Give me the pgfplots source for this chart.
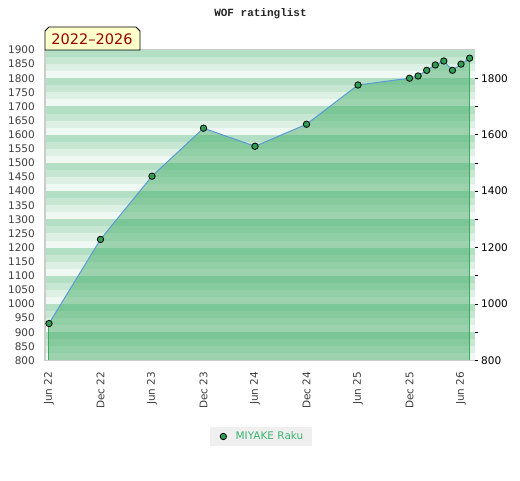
\documentclass[border=0pt]{standalone}
\usepackage{pgfplots}
\pgfplotsset{compat=1.18}
\usepackage{fontspec}
\setmainfont{DejaVu Sans}
\newfontfamily\titlefont{Liberation Mono}
\definecolor{sA}{HTML}{B3DFC5}
\definecolor{sB}{HTML}{C7E7D3}
\definecolor{sC}{HTML}{DCF0E3}
\definecolor{sD}{HTML}{EFF8F2}
\definecolor{areagreen}{HTML}{37A85D}
\definecolor{edgegreen}{HTML}{3CAA60}
\definecolor{markgreen}{HTML}{2E9E55}
\definecolor{lineblue}{HTML}{5B9BD5}
\definecolor{tickgrey}{HTML}{404040}
\definecolor{bordergrey}{HTML}{CCCCCC}
\definecolor{tabyellow}{HTML}{FFFFCC}
\definecolor{tabred}{HTML}{990000}
\definecolor{legendgreen}{HTML}{3CB371}
\definecolor{legendbg}{HTML}{EFEFEF}
\begin{document}
\begin{tikzpicture}
\path[use as bounding box, fill=white] (0,0) rectangle (520pt,480pt);
\begin{axis}[
  at={(45pt,119.5pt)}, anchor=south west,
  scale only axis, width=430pt, height=310.5pt,
  xmin=-0.466, xmax=49.63, ymin=800, ymax=1900,
  axis line style={draw=none},
  xtick={0,6,...,48},
  xticklabels={Jun 22,Dec 22,Jun 23,Dec 23,Jun 24,Dec 24,Jun 25,Dec 25,Jun 26},
  x tick label style={rotate=90, anchor=east, inner sep=0pt, text=tickgrey, font=\fontsize{10.5}{12}\selectfont},
  xticklabel shift=11pt,
  ytick={800,850,...,1900},
  y tick label style={anchor=east, inner sep=0pt, text=tickgrey, font=\fontsize{10.5}{12}\selectfont},
  yticklabel shift=10pt,
  major tick length=0pt,
  /pgf/number format/1000 sep={},
  /pgf/number format/assume math mode=true,
  clip=false,
  legend style={at={(0.5023,-0.2448)}, anchor=center, fill=legendbg, draw=none,
    font=\fontsize{10.5}{12}\selectfont, text=legendgreen, inner xsep=6.5pt, inner ysep=3pt},
  legend cell align=left,
  legend image code/.code={\path[draw=none, fill=none] (0pt,-1pt) rectangle (17pt,1pt);
    \path[draw=none, mark=*, mark size=3.2pt, mark options={fill=markgreen, draw=black, line width=0.8pt}] plot coordinates {(6.7pt,0pt)};},
]
\pgfplotsinvokeforeach{800,900,...,1800}{
  \fill[sD] (axis cs:-0.466,#1) rectangle (axis cs:49.63,{#1+25});
  \fill[sC] (axis cs:-0.466,{#1+25}) rectangle (axis cs:49.63,{#1+50});
  \fill[sB] (axis cs:-0.466,{#1+50}) rectangle (axis cs:49.63,{#1+75});
  \fill[sA] (axis cs:-0.466,{#1+75}) rectangle (axis cs:49.63,{#1+100});
}
\addplot[fill=areagreen, fill opacity=0.45, draw=none, forget plot] coordinates {
(0,931) (6,1229) (12,1453) (18,1623) (24,1559) (30,1637) (36,1776) (42,1800)
(43,1808) (44,1828) (45,1847) (46,1861) (47,1828) (48,1850) (49,1871)} \closedcycle;
\addplot[edgegreen, line width=1pt, forget plot] coordinates {(0,800) (0,931)};
\addplot[edgegreen, line width=1pt, forget plot] coordinates {(49,800) (49,1871)};
\addplot[lineblue, line width=1pt, mark=*, mark size=3.2pt,
  mark options={fill=markgreen, draw=black, line width=0.8pt, solid}] coordinates {
(0,931) (6,1229) (12,1453) (18,1623) (24,1559) (30,1637) (36,1776) (42,1800)
(43,1808) (44,1828) (45,1847) (46,1861) (47,1828) (48,1850) (49,1871)};
\addlegendentry{MIYAKE Raku}
\draw[bordergrey, line width=1.5pt] (rel axis cs:0,1) -- (rel axis cs:0,0) -- (rel axis cs:1,0);
\draw[bordergrey, line width=1pt] (rel axis cs:0,1) -- (rel axis cs:1,1);
\end{axis}
\begin{axis}[
  at={(45pt,119.5pt)}, anchor=south west,
  scale only axis, width=430pt, height=310.5pt,
  xmin=-0.466, xmax=49.63, ymin=800, ymax=1900,
  axis x line=none,
  axis y line*=right,
  y axis line style={draw=none},
  ytick={800,1000,...,1800},
  minor ytick={900,1100,...,1700},
  tick align=outside,
  major tick length=3pt, minor tick length=3pt,
  every tick/.style={black, line width=0.8pt},
  y tick label style={anchor=west, inner sep=0pt, text=black, font=\fontsize{10.5}{12}\selectfont},
  yticklabel shift=3pt,
  /pgf/number format/1000 sep={},
  /pgf/number format/assume math mode=true,
]
\addplot[draw=none] coordinates {(0,800)};
\end{axis}
\draw[fill=tabyellow, draw=black, line width=0.8pt] (45pt,430pt) -- (45pt,449pt) -- (49pt,453pt) -- (136pt,453pt) -- (140pt,449pt) -- (140pt,430pt) -- cycle;
\node[text=tabred, font=\fontsize{14.5}{16}\selectfont, inner sep=0pt] at (92pt,440.5pt) {2022–2026};
\node[font=\titlefont\bfseries\fontsize{11}{12}\selectfont, text=black!85, inner sep=0pt] at (260.5pt,466.8pt) {WOF ratinglist};
\end{tikzpicture}
\end{document}
